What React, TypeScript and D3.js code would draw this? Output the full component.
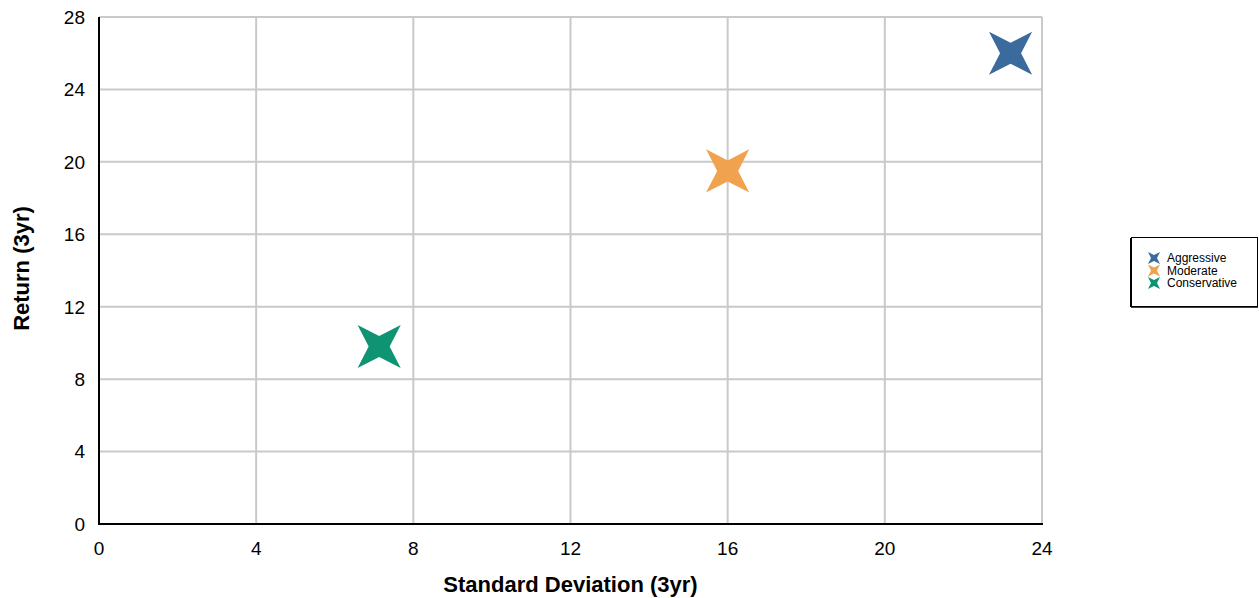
import React from "react";
import * as d3 from "d3";

const seriesNames = ["Aggressive", "Moderate", "Conservative"];
const stdDev = [23.2, 16.0, 7.13];
const returns = [26.0, 19.5, 9.8];
const colors = ["#3B6A9C", "#F0A24F", "#0E9472"];
const xTicks = [0, 4, 8, 12, 16, 20, 24];
const yTicks = [0, 4, 8, 12, 16, 20, 24, 28];

const W = 1259;
const H = 598;
const L = 99, R = 1042, T = 17, B = 524;

function starPath(outer: number, inner: number) {
  const pts: [number, number][] = [];
  for (let i = 0; i < 8; i++) {
    const a = -Math.PI * 3 / 4 + (i * Math.PI) / 4;
    const r = i % 2 === 0 ? outer : inner;
    pts.push([Math.cos(a) * r, Math.sin(a) * r]);
  }
  return d3.line()(pts)! + "Z";
}

export default function App() {
  const x = d3.scaleLinear().domain([0, 24]).range([L, R]);
  const y = d3.scaleLinear().domain([0, 28]).range([B, T]);
  const big = starPath(30.5, 10.5);
  const small = starPath(8.5, 3);
  const font = "Liberation Sans, Arial, sans-serif";
  return (
    <svg width={W} height={H} style={{ position: "absolute", left: 0, top: 0 }} fontFamily={font}>
      <rect x={0} y={0} width={W} height={H} fill="#fff" />
      {xTicks.map((t) => (
        <line key={"gx" + t} x1={x(t)} x2={x(t)} y1={T} y2={B} stroke="#c9c9c9" strokeWidth={2} />
      ))}
      {yTicks.map((t) => (
        <line key={"gy" + t} x1={L} x2={R} y1={y(t)} y2={y(t)} stroke="#c9c9c9" strokeWidth={2} />
      ))}
      <line x1={L} x2={L} y1={T} y2={B + 1} stroke="#000" strokeWidth={2} />
      <line x1={L - 1} x2={R + 1} y1={B} y2={B} stroke="#000" strokeWidth={2} />
      {yTicks.map((t) => (
        <text key={"ty" + t} x={85} y={y(t)} dy="0.36em" textAnchor="end" fontSize={19} fill="#000">
          {t}
        </text>
      ))}
      {xTicks.map((t) => (
        <text key={"tx" + t} x={x(t)} y={555} textAnchor="middle" fontSize={19} fill="#000">
          {t}
        </text>
      ))}
      <text x={(L + R) / 2} y={592} textAnchor="middle" fontSize={22} fontWeight="bold">
        Standard Deviation (3yr)
      </text>
      <text
        transform={`translate(29,268.5) rotate(-90)`}
        textAnchor="middle"
        fontSize={22}
        fontWeight="bold"
      >
        Return (3yr)
      </text>
      {seriesNames.map((n, i) => (
        <path key={n} d={big} transform={`translate(${x(stdDev[i])},${y(returns[i])})`} fill={colors[i]} />
      ))}
      <rect x={1131.5} y={237.5} width={126} height={69} fill="#fff" stroke="#000" strokeWidth={1} />
      <line x1={1131} x2={1131} y1={238} y2={307} stroke="#000" strokeWidth={2} />
      <line x1={1131} x2={1258} y1={307} y2={307} stroke="#000" strokeWidth={1.5} />
      {seriesNames.map((n, i) => (
        <g key={"lg" + n} transform={`translate(1154,${258 + i * 12.5})`}>
          <path d={small} fill={colors[i]} />
          <text x={13} y={0} dy="0.35em" fontSize={12}>
            {n}
          </text>
        </g>
      ))}
    </svg>
  );
}
